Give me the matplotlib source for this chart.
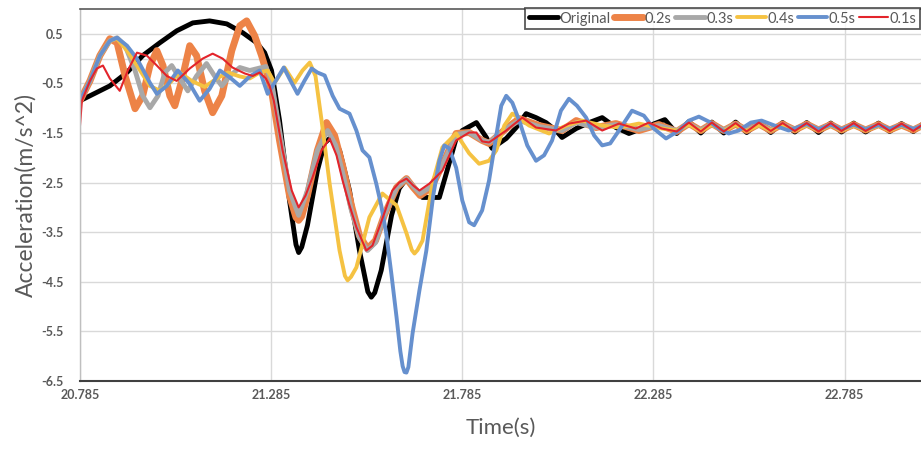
import matplotlib
matplotlib.use("Agg")
import matplotlib.pyplot as plt

# ---------------- data ----------------
x_ticks = [20.785, 21.285, 21.785, 22.285, 22.785]
y_ticks = [-6.5, -5.5, -4.5, -3.5, -2.5, -1.5, -0.5, 0.5]
series_names = ["Original", "0.2s", "0.3s", "0.4s", "0.5s", "0.1s"]

# shared time points for the small steady oscillation at the end
t_tail = [22.378, 22.409, 22.438, 22.469, 22.500, 22.529, 22.561, 22.592, 22.623, 22.655,
          22.686, 22.717, 22.749, 22.777, 22.809, 22.840, 22.874, 22.903, 22.934, 22.965, 22.991]

t_orig = [20.785, 20.811, 20.863, 20.908, 20.949, 20.994, 21.038, 21.080, 21.124, 21.169,
          21.211, 21.247, 21.268, 21.286, 21.307, 21.333, 21.350, 21.357, 21.365, 21.380,
          21.406, 21.425, 21.438, 21.450, 21.464, 21.490, 21.516, 21.538, 21.547, 21.556,
          21.573, 21.600, 21.620, 21.639, 21.660, 21.681, 21.725, 21.743, 21.769, 21.785,
          21.822, 21.848, 21.863, 21.900, 21.926, 21.952, 21.978, 22.004, 22.030, 22.046,
          22.083, 22.117, 22.151, 22.187, 22.221, 22.255, 22.315, 22.346]
a_orig = [-0.85, -0.75, -0.55, -0.28, 0.06, 0.32, 0.56, 0.72, 0.76, 0.70,
          0.52, 0.32, 0.12, -0.24, -1.25, -2.86, -3.75, -3.91, -3.80, -3.36,
          -2.26, -1.70, -1.61, -1.68, -1.85, -2.66, -3.87, -4.70, -4.81, -4.72,
          -4.27, -3.16, -2.62, -2.42, -2.62, -2.80, -2.80, -2.32, -1.61, -1.45,
          -1.29, -1.59, -1.81, -1.61, -1.39, -1.11, -1.19, -1.29, -1.45, -1.59,
          -1.41, -1.29, -1.19, -1.39, -1.51, -1.41, -1.23, -1.51]
a_orig_tail = [-1.27, -1.50, -1.28, -1.50, -1.28, -1.49, -1.29, -1.49, -1.29, -1.48,
               -1.29, -1.49, -1.30, -1.48, -1.30, -1.48, -1.30, -1.47, -1.31, -1.47, -1.31]

t_02 = [20.785, 20.811, 20.837, 20.863, 20.882, 20.903, 20.929, 20.949, 20.968, 20.986,
        21.002, 21.020, 21.033, 21.051, 21.072, 21.090, 21.111, 21.132, 21.156, 21.182,
        21.203, 21.221, 21.242, 21.260, 21.276, 21.286, 21.307, 21.333, 21.350, 21.357,
        21.365, 21.380, 21.406, 21.430, 21.451, 21.472, 21.495, 21.516, 21.537, 21.558,
        21.581, 21.613, 21.639, 21.657, 21.675, 21.704, 21.738, 21.769, 21.803, 21.837,
        21.855, 21.900, 21.934, 21.986, 22.046, 22.083, 22.135, 22.187, 22.247, 22.299,
        22.346]
a_02 = [-0.85, -0.45, 0.06, 0.40, 0.32, -0.35, -1.01, -0.75, -0.14, 0.16,
        -0.14, -0.75, -0.95, -0.45, 0.26, 0.06, -0.65, -1.09, -0.75, 0.16,
        0.66, 0.76, 0.46, 0.06, -0.35, -0.65, -1.65, -2.76, -3.20, -3.26,
        -3.18, -2.76, -1.85, -1.29, -1.55, -2.16, -2.96, -3.57, -3.83, -3.67,
        -3.16, -2.60, -2.42, -2.60, -2.76, -2.60, -2.06, -1.51, -1.49, -1.65,
        -1.71, -1.41, -1.21, -1.35, -1.45, -1.25, -1.39, -1.31, -1.45, -1.33,
        -1.47]
a_02_tail = [-1.31, -1.45, -1.31, -1.45, -1.32, -1.45, -1.32, -1.45, -1.32, -1.44,
             -1.32, -1.44, -1.33, -1.44, -1.33, -1.44, -1.33, -1.44, -1.34, -1.44, -1.34]

t_03 = [20.785, 20.811, 20.837, 20.863, 20.882, 20.903, 20.929, 20.949, 20.968, 20.989,
        21.007, 21.025, 21.046, 21.067, 21.090, 21.116, 21.137, 21.156, 21.177, 21.203,
        21.229, 21.250, 21.271, 21.286, 21.307, 21.333, 21.357, 21.380, 21.406, 21.433,
        21.454, 21.474, 21.495, 21.516, 21.537, 21.558, 21.581, 21.613, 21.639, 21.657,
        21.675, 21.704, 21.738, 21.769, 21.803, 21.837, 21.855, 21.900, 21.934, 21.986,
        22.046, 22.083, 22.135, 22.187, 22.247, 22.299, 22.346]
a_03 = [-0.85, -0.45, 0.06, 0.36, 0.42, 0.26, -0.24, -0.75, -0.99, -0.75,
        -0.28, -0.14, -0.40, -0.65, -0.35, -0.10, -0.35, -0.55, -0.35, -0.18,
        -0.24, -0.20, -0.16, -0.45, -1.45, -2.66, -3.16, -2.66, -1.85, -1.45,
        -1.75, -2.36, -3.06, -3.61, -3.87, -3.71, -3.16, -2.60, -2.42, -2.58,
        -2.72, -2.58, -2.06, -1.53, -1.49, -1.65, -1.69, -1.41, -1.25, -1.37,
        -1.45, -1.29, -1.39, -1.33, -1.43, -1.35, -1.45]
a_03_tail = [-1.32, -1.44, -1.32, -1.44, -1.32, -1.44, -1.33, -1.44, -1.33, -1.43,
             -1.33, -1.43, -1.33, -1.43, -1.34, -1.43, -1.34, -1.43, -1.34, -1.42, -1.35]

t_04 = [20.785, 20.811, 20.837, 20.863, 20.882, 20.908, 20.934, 20.968, 20.994, 21.020,
        21.046, 21.077, 21.111, 21.143, 21.172, 21.203, 21.229, 21.255, 21.276, 21.294,
        21.320, 21.346, 21.367, 21.386, 21.401, 21.417, 21.438, 21.464, 21.478, 21.485,
        21.494, 21.508, 21.542, 21.576, 21.613, 21.639, 21.653, 21.660, 21.668, 21.681,
        21.707, 21.733, 21.769, 21.803, 21.829, 21.855, 21.874, 21.895, 21.916, 21.960,
        22.012, 22.057, 22.099, 22.151, 22.195, 22.247, 22.307, 22.346]
a_04 = [-0.85, -0.45, 0.06, 0.36, 0.40, 0.16, -0.14, -0.55, -0.65, -0.49,
        -0.28, -0.45, -0.57, -0.40, -0.28, -0.36, -0.40, -0.28, -0.24, -0.49,
        -0.18, -0.49, -0.24, -0.08, -0.35, -1.25, -2.52, -3.87, -4.38, -4.47,
        -4.40, -4.21, -3.20, -2.72, -2.96, -3.52, -3.86, -3.93, -3.86, -3.67,
        -2.52, -1.79, -1.51, -1.91, -2.12, -2.06, -1.85, -1.35, -1.11, -1.35,
        -1.51, -1.35, -1.25, -1.35, -1.39, -1.31, -1.41, -1.45]
a_04_tail = [-1.33, -1.46, -1.33, -1.46, -1.33, -1.46, -1.34, -1.45, -1.34, -1.45,
             -1.34, -1.45, -1.34, -1.45, -1.35, -1.45, -1.35, -1.45, -1.35, -1.44, -1.36]

t_05 = [20.785, 20.811, 20.837, 20.863, 20.882, 20.908, 20.934, 20.968, 20.986, 21.012,
        21.041, 21.072, 21.098, 21.124, 21.151, 21.177, 21.203, 21.229, 21.255, 21.276,
        21.297, 21.318, 21.336, 21.354, 21.372, 21.391, 21.406, 21.425, 21.446, 21.464,
        21.490, 21.508, 21.524, 21.542, 21.560, 21.573, 21.586, 21.600, 21.613, 21.623,
        21.629, 21.634, 21.639, 21.644, 21.655, 21.673, 21.691, 21.709, 21.725, 21.738,
        21.751, 21.769, 21.785, 21.803, 21.816, 21.837, 21.855, 21.874, 21.887, 21.900,
        21.916, 21.934, 21.955, 21.978, 21.999, 22.020, 22.043, 22.064, 22.085, 22.109,
        22.130, 22.151, 22.172, 22.195, 22.229, 22.260, 22.286, 22.318, 22.352, 22.378,
        22.404, 22.435, 22.456, 22.482, 22.508, 22.540, 22.568, 22.602, 22.639]
a_05 = [-0.85, -0.45, 0.06, 0.36, 0.42, 0.26, 0.00, -0.49, -0.71, -0.55,
        -0.24, -0.51, -0.85, -0.61, -0.24, -0.38, -0.55, -0.36, -0.24, -0.71,
        -0.45, -0.18, -0.45, -0.71, -0.45, -0.20, -0.28, -0.34, -0.75, -1.01,
        -1.11, -1.45, -1.85, -1.99, -2.52, -2.96, -3.52, -4.37, -5.21, -5.90,
        -6.20, -6.32, -6.33, -6.22, -5.54, -4.67, -3.87, -2.76, -2.06, -1.75,
        -1.81, -2.20, -2.86, -3.30, -3.36, -3.06, -2.46, -1.55, -0.95, -0.75,
        -0.89, -1.25, -1.75, -2.06, -1.95, -1.65, -1.05, -0.81, -0.95, -1.19,
        -1.55, -1.75, -1.71, -1.45, -1.05, -1.15, -1.41, -1.61, -1.45, -1.25,
        -1.17, -1.29, -1.41, -1.51, -1.45, -1.29, -1.25, -1.35, -1.45]
a_05_tail = [-1.32, -1.43, -1.33, -1.43, -1.33, -1.43, -1.34, -1.42, -1.34, -1.42, -1.35]

t_01 = [20.785, 20.790, 20.811, 20.829, 20.845, 20.863, 20.889, 20.910, 20.934, 20.960,
        20.986, 21.012, 21.038, 21.072, 21.106, 21.132, 21.158, 21.184, 21.216, 21.237,
        21.255, 21.271, 21.281, 21.292, 21.315, 21.339, 21.357, 21.375, 21.393, 21.417,
        21.438, 21.456, 21.472, 21.490, 21.508, 21.534, 21.550, 21.568, 21.602, 21.620,
        21.639, 21.657, 21.673, 21.699, 21.733, 21.751, 21.769, 21.803, 21.822, 21.837,
        21.855, 21.900, 21.942, 21.978, 22.030, 22.064, 22.109, 22.151, 22.195, 22.239,
        22.273, 22.307, 22.346]
a_01 = [-1.35, -0.85, -0.45, -0.20, -0.14, -0.40, -0.65, -0.24, 0.12, 0.06,
        -0.14, -0.35, -0.45, -0.20, 0.00, 0.10, 0.00, -0.18, -0.30, -0.35,
        -0.28, -0.40, -0.55, -0.85, -1.85, -2.66, -3.00, -2.76, -2.40, -1.85,
        -1.61, -1.95, -2.46, -2.96, -3.40, -3.87, -3.77, -3.40, -2.66, -2.50,
        -2.42, -2.56, -2.66, -2.52, -2.26, -1.95, -1.65, -1.49, -1.49, -1.67,
        -1.69, -1.45, -1.19, -1.39, -1.45, -1.31, -1.25, -1.45, -1.31, -1.41,
        -1.29, -1.41, -1.47]
a_01_tail = [-1.29, -1.47, -1.29, -1.47, -1.30, -1.47, -1.29, -1.46, -1.30, -1.46,
             -1.30, -1.47, -1.30, -1.46, -1.30, -1.46, -1.31, -1.46, -1.31, -1.46, -1.32]

# ---------------- figure ----------------
plt.rcParams['font.family'] = ['Lato', 'DejaVu Sans']
fig = plt.figure(figsize=(9.21, 4.5), dpi=100)
ax = fig.add_axes([80 / 921, 1 - 381 / 450, 1 - 80 / 921, (381 - 9) / 450])

grid_c = '#d9d9d9'
ax.set_xlim(20.785, 22.985)
ax.set_ylim(-6.5, 1.0)
ax.set_xticks(x_ticks)
ax.set_xticklabels([f"{v:.3f}" for v in x_ticks])
ax.set_yticks(y_ticks)
ax.set_yticklabels([f"{v:.1f}" for v in y_ticks])
ax.grid(True, color=grid_c, linewidth=1.0)
ax.axhline(0.0, color=grid_c, linewidth=1.0, zorder=0.5)
ax.set_axisbelow(True)

ax.tick_params(axis='both', length=0, labelcolor='#595959', labelsize=9)
ax.tick_params(axis='y', pad=12)
ax.tick_params(axis='x', pad=6)
for lab in ax.get_xticklabels() + ax.get_yticklabels():
    lab.set_fontweight('bold')

ax.spines['right'].set_visible(False)
ax.spines['left'].set_color('#bfbfbf')
ax.spines['left'].set_linewidth(1.0)
ax.spines['bottom'].set_color('#404040')
ax.spines['bottom'].set_linewidth(1.5)
ax.spines['top'].set_color('#595959')
ax.spines['top'].set_linewidth(1.2)

styles = [
    (t_orig, a_orig, t_tail, a_orig_tail, '#000000', 3.5),
    (t_02, a_02, t_tail, a_02_tail, '#ED8347', 5.0),
    (t_03, a_03, t_tail, a_03_tail, '#A8A8A8', 3.5),
    (t_04, a_04, t_tail, a_04_tail, '#F5C242', 2.8),
    (t_05, a_05, t_tail[10:], a_05_tail, '#6690CE', 2.8),
    (t_01, a_01, t_tail, a_01_tail, '#E3242B', 1.5),
]
for name, (t1, a1, t2, a2, col, lw) in zip(series_names, styles):
    ax.plot(list(t1) + list(t2), list(a1) + list(a2), color=col, linewidth=lw,
            label=name, solid_joinstyle='round', solid_capstyle='round')

ax.set_xlabel("Time(s)", fontsize=16, color='#595959', labelpad=12)
ax.set_ylabel("Acceleration(m/s^2)", fontsize=16.5, color='#595959', labelpad=3)

leg = ax.legend(loc='upper right', bbox_to_anchor=(0.999, 1.003), ncol=6, fontsize=10.5,
                frameon=True, fancybox=False, handlelength=2.0, handletextpad=0.1,
                columnspacing=0.25, borderaxespad=0, borderpad=0.25)
leg.get_frame().set_edgecolor('#303030')
leg.get_frame().set_linewidth(1.3)
for txt in leg.get_texts():
    txt.set_color('#595959')

fig.savefig("out.png", dpi=100, facecolor='white')
